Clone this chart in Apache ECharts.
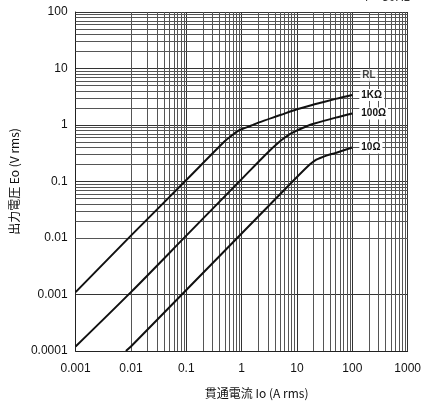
<!DOCTYPE html>
<html>
<head>
<meta charset="utf-8">
<script src="https://cdn.jsdelivr.net/npm/echarts@6/dist/echarts.min.js"></script>
<style>
html, body { margin: 0; padding: 0; background: #fff; }
#container { width: 424px; height: 404px; }
</style>
</head>
<body>
<div id="container"></div>
<script>
// tick labels
var xTickLabels = ['0.001', '0.01', '0.1', '1', '10', '100', '1000'];
var yTickLabels = ['0.0001', '0.001', '0.01', '0.1', '1', '10', '100'];

// curves: [current A, voltage V]
var curve1k = [
    [0.001, 0.0011], [0.01, 0.011], [0.1, 0.106], [0.5, 0.52], [0.7, 0.68],
    [0.85, 0.78], [1, 0.84], [1.5, 0.98], [2, 1.1], [5, 1.5], [10, 1.9],
    [20, 2.3], [50, 2.9], [100, 3.4]
];
var curve100 = [
    [0.001, 0.00012], [0.01, 0.0011], [0.1, 0.011], [1, 0.11], [3, 0.33],
    [5, 0.52], [6.5, 0.63], [8, 0.72], [10, 0.8], [15, 0.95], [20, 1.05],
    [50, 1.35], [100, 1.6]
];
var curve10 = [
    [0.0081, 0.0001], [0.01, 0.00012], [0.1, 0.0012], [1, 0.012], [10, 0.12],
    [17, 0.2], [21, 0.235], [25, 0.255], [35, 0.29], [50, 0.32], [100, 0.4]
];
var curveNames = ['1KΩ', '100Ω', '10Ω'];
var rlLabel = { text: 'RL', coord: [100, 7.6] };

var dom = document.getElementById('container');
var myChart = echarts.init(dom, null, { renderer: 'canvas' });

// minor grid values 2..9 in every decade
function minorValues(lo, hi) {
    var out = [];
    for (var e = lo; e < hi; e++) {
        for (var k = 2; k <= 9; k++) out.push(k * Math.pow(10, e));
    }
    return out;
}
var xMinor = minorValues(-3, 3);
var yMinor = minorValues(-4, 2);

function labelFrom(list, lo) {
    return function (v) {
        var i = Math.round(Math.log10(v)) - lo;
        return list[i] || '';
    };
}

var gridLines = [];
xMinor.forEach(function (v) { gridLines.push({ xAxis: v }); });
yMinor.forEach(function (v) { gridLines.push({ yAxis: v }); });

function curveSeries(name, data) {
    return {
        name: name,
        type: 'line',
        data: data,
        showSymbol: false,
        smooth: 0.3,
        lineStyle: { color: '#111', width: 2 },
        z: 5,
        endLabel: {
            show: true,
            formatter: name,
            color: '#111',
            fontSize: 10,
            fontWeight: 'bold',
            fontFamily: 'Liberation Sans',
            backgroundColor: '#fff',
            padding: [1, 2],
            distance: 7
        }
    };
}

var option = {
    animation: false,
    backgroundColor: '#fff',
    grid: { left: 71, right: 16, top: 12, bottom: 42 },
    xAxis: {
        type: 'log',
        min: 0.001,
        max: 1000,
        name: '貫通電流 Io (A rms)',
        nameLocation: 'middle',
        nameGap: 36,
        nameTextStyle: { color: '#111', fontSize: 12, fontFamily: 'Noto Sans CJK JP', padding: [0, 0, 0, 30] },
        axisLine: { show: true, lineStyle: { color: '#222', width: 1 } },
        axisTick: { show: false },
        axisLabel: { color: '#111', fontSize: 12, fontFamily: 'Liberation Sans', margin: 12, formatter: labelFrom(xTickLabels, -3) },
        splitLine: { show: true, lineStyle: { color: '#333', width: 1 } }
    },
    yAxis: {
        type: 'log',
        min: 0.0001,
        max: 100,
        name: '出力電圧 Eo (V rms)',
        nameLocation: 'middle',
        nameGap: 54,
        nameTextStyle: { color: '#111', fontSize: 12, fontFamily: 'Noto Sans CJK JP' },
        axisLine: { show: true, lineStyle: { color: '#222', width: 1 } },
        axisTick: { show: false },
        axisLabel: { color: '#111', fontSize: 12, fontFamily: 'Liberation Sans', margin: 8, formatter: labelFrom(yTickLabels, -4) },
        splitLine: { show: true, lineStyle: { color: '#333', width: 1 } }
    },
    graphic: [{
        type: 'text',
        right: 14,
        top: -8,
        style: { text: 'f = 50Hz', fill: '#333', fontSize: 12, fontFamily: 'Liberation Sans' }
    }],
    series: [
        {
            name: 'grid',
            type: 'line',
            data: [],
            silent: true,
            markLine: {
                silent: true,
                symbol: 'none',
                label: { show: false },
                lineStyle: { color: '#555', width: 1, type: 'solid' },
                data: gridLines
            }
        },
        curveSeries(curveNames[0], curve1k),
        curveSeries(curveNames[1], curve100),
        curveSeries(curveNames[2], curve10),
        {
            name: 'RL',
            type: 'scatter',
            data: [rlLabel.coord],
            symbolSize: 0,
            z: 6,
            label: {
                show: true,
                position: 'right',
                distance: 8,
                formatter: rlLabel.text,
                color: '#111',
                fontSize: 10,
                fontWeight: 'bold',
                fontFamily: 'Liberation Sans',
                backgroundColor: '#fff',
                padding: [1, 2]
            }
        }
    ]
};

myChart.setOption(option);
window.addEventListener('resize', myChart.resize);
</script>
</body>
</html>
